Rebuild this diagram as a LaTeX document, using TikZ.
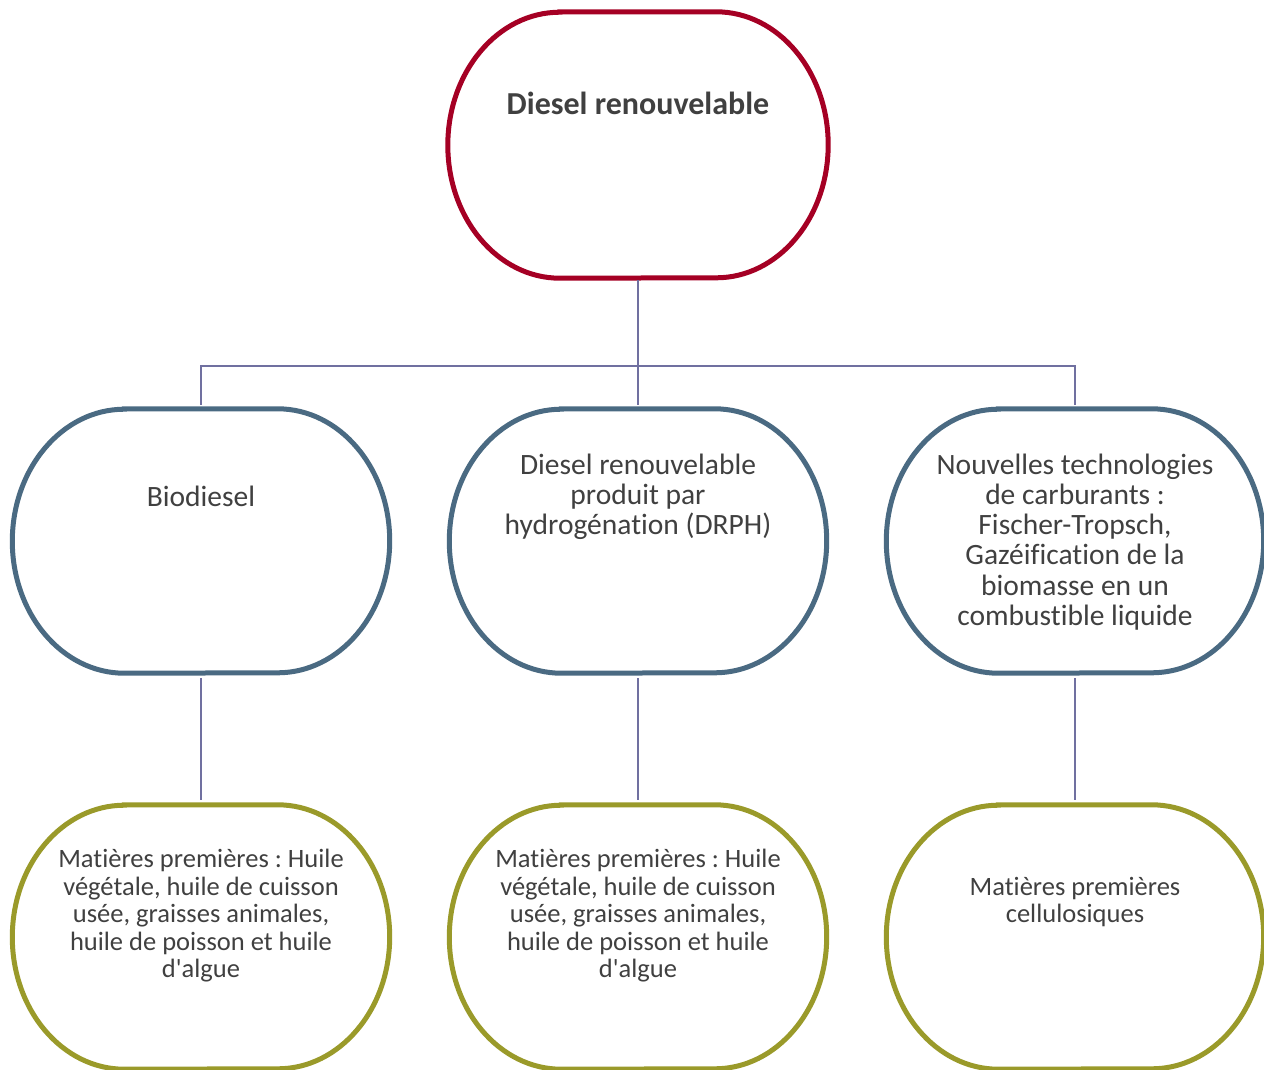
\documentclass[tikz,border=0pt]{standalone}
\usepackage{fontspec}
\setmainfont{Carlito}[Ligatures={NoCommon}]
\frenchspacing
\definecolor{topred}{RGB}{165,0,36}
\definecolor{midblue}{RGB}{74,106,130}
\definecolor{olive}{RGB}{154,154,42}
\definecolor{connc}{RGB}{112,112,160}
\definecolor{txtgray}{RGB}{64,64,64}
\newcommand\ovalframe[3]{\draw[line width=5pt,#2] ([xshift=112pt]#1.north west) -- ([xshift=-112pt]#1.north east) arc[start angle=90,end angle=-90,x radius=112pt,y radius=#3] -- ([xshift=112pt]#1.south west) arc[start angle=270,end angle=90,x radius=112pt,y radius=#3] -- cycle;}
\begin{document}
\begin{tikzpicture}[x=1pt,y=1pt,
  frame/.style={rectangle,draw=none,minimum width=377pt,minimum height=264pt,inner sep=0pt},
  txt/.style={text=txtgray,align=center,font=\fontsize{29.5}{30.2}\selectfont,inner sep=0pt},
  smalltxt/.style={text=txtgray,align=center,font=\fontsize{26.5}{27.5}\selectfont,inner sep=0pt},
  conn/.style={draw=connc,line width=1.5pt}]
\useasboundingbox (0,0) rectangle (1264,-1069);
% frames
\node[frame,minimum width=380pt,minimum height=266pt] (top) at (638,-145) {};
\node[frame] (bio) at (201,-541) {};
\node[frame] (drph) at (638,-541) {};
\node[frame] (nouv) at (1075,-541) {};
\node[frame] (mpbio) at (201,-937) {};
\node[frame] (mpdrph) at (638,-937) {};
\node[frame] (mpcell) at (1075,-937) {};
\ovalframe{top}{topred}{133pt}
\ovalframe{bio}{midblue}{132pt}
\ovalframe{drph}{midblue}{132pt}
\ovalframe{nouv}{midblue}{132pt}
\ovalframe{mpbio}{olive}{132pt}
\ovalframe{mpdrph}{olive}{132pt}
\ovalframe{mpcell}{olive}{132pt}
% texts
\node[txt,font=\fontsize{32}{34}\selectfont\bfseries] (topt) at (638,-103) {Diesel renouvelable};
\node[txt] (biot) at (201,-496) {Biodiesel};
\node[txt] (drpht) at (638,-497) {Diesel renouvelable\\produit par\\hydrogénation (DRPH)};
\node[txt] (nouvt) at (1075,-542) {Nouvelles technologies\\de carburants :\\Fischer-Tropsch,\\Gazéification de la\\biomasse en un\\combustible liquide};
\node[smalltxt] (mpbiot) at (201,-916) {Matières premières : Huile\\végétale, huile de cuisson\\usée, graisses animales,\\huile de poisson et huile\\d\textquotesingle algue};
\node[smalltxt] (mpdrpht) at (638,-916) {Matières premières : Huile\\végétale, huile de cuisson\\usée, graisses animales,\\huile de poisson et huile\\d\textquotesingle algue};
\node[smalltxt] (mpcellt) at (1075,-902) {Matières premières\\cellulosiques};
% connectors
\coordinate (bus) at (638,-366);
\draw[conn,shorten <=2pt,shorten >=4pt] (top.south) -- (drph.north);
\draw[conn,shorten <=4pt,shorten >=4pt] (bio.north) |- (bus) -| (nouv.north);
\draw[conn,shorten <=5pt,shorten >=5pt] (bio.south) -- (mpbio.north);
\draw[conn,shorten <=5pt,shorten >=5pt] (drph.south) -- (mpdrph.north);
\draw[conn,shorten <=5pt,shorten >=5pt] (nouv.south) -- (mpcell.north);
\end{tikzpicture}
\end{document}
